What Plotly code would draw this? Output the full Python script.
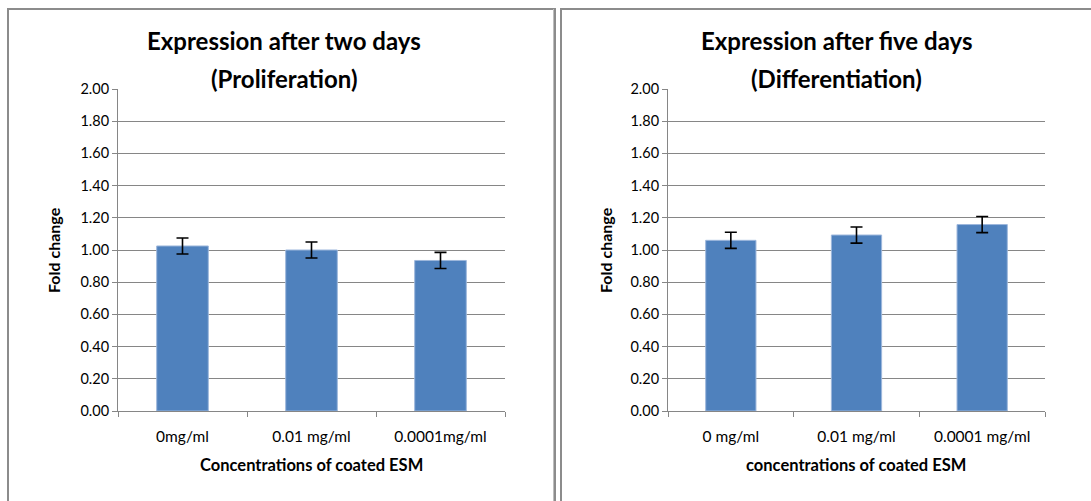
import plotly.graph_objects as go

W, H = 1091, 501

# Data
cats_left = ["0mg/ml", "0.01 mg/ml", "0.0001mg/ml"]
vals_left = [1.025, 1.00, 0.935]
err_left = [0.05, 0.05, 0.05]

cats_right = ["0 mg/ml", "0.01 mg/ml", "0.0001 mg/ml"]
vals_right = [1.06, 1.093, 1.158]
err_right = [0.05, 0.05, 0.05]

ytickvals = [0.0, 0.2, 0.4, 0.6, 0.8, 1.0, 1.2, 1.4, 1.6, 1.8, 2.0]

title_left = ["Expression after two days", "(Proliferation)"]
title_right = ["Expression after five days", "(Differentiation)"]
xtitle_left = "Concentrations of coated ESM"
xtitle_right = "concentrations of coated ESM"
ytitle = "Fold change"

FONT = "Lato"
BAR = "#4F81BD"
GRID = "#868686"

def px(x):
    return x / W

def py(y):
    return 1 - y / H

pos_left = list(range(len(cats_left)))
pos_right = list(range(len(cats_right)))

fig = go.Figure()
fig.add_trace(go.Bar(x=pos_left, y=vals_left, xaxis="x", yaxis="y",
                     marker=dict(color=BAR, line=dict(color="#9DB7DC", width=1)),
                     width=0.4,
                     error_y=dict(type="data", array=err_left, color="black",
                                  thickness=1.6, width=6)))
fig.add_trace(go.Bar(x=pos_right, y=vals_right, xaxis="x2", yaxis="y2",
                     marker=dict(color=BAR, line=dict(color="#9DB7DC", width=1)),
                     width=0.4,
                     error_y=dict(type="data", array=err_right, color="black",
                                  thickness=1.6, width=6)))

ydom = [py(411), py(89)]
yax = dict(range=[0, 2], tickvals=ytickvals, tickformat=".2f",
           showgrid=True, gridcolor=GRID, gridwidth=1,
           showline=True, linecolor=GRID, linewidth=1,
           ticks="outside", ticklen=5, tickwidth=1, tickcolor=GRID,
           tickfont=dict(family=FONT, size=14.5, color="black"),
           zeroline=False, domain=ydom, fixedrange=True, automargin=False)

def xaxis(cats, dom):
    n = len(cats)
    return dict(type="linear", range=[-0.5, n - 0.5], domain=dom,
                tickvals=list(range(n)), ticktext=cats,
                showline=True, linecolor=GRID, linewidth=1,
                ticks="outside", ticklen=11, tickwidth=1,
                tickcolor="rgba(0,0,0,0)",
                minor=dict(tickmode="linear", tick0=-0.5, dtick=1,
                           ticks="outside", ticklen=5, tickwidth=1,
                           tickcolor=GRID, showgrid=False),
                tickfont=dict(family=FONT, size=15.5, color="black"),
                showgrid=False, zeroline=False, fixedrange=True,
                automargin=False)

fig.update_layout(
    template="none",
    width=W, height=H, autosize=False,
    margin=dict(l=0, r=0, t=0, b=0, pad=0, autoexpand=False),
    paper_bgcolor="white", plot_bgcolor="white",
    showlegend=False,
    hovermode=False,
    xaxis=dict(anchor="y", **xaxis(cats_left, [px(118), px(505)])),
    yaxis=dict(anchor="x", **yax),
    xaxis2=dict(anchor="y2", **xaxis(cats_right, [px(668), px(1045)])),
    yaxis2=dict(anchor="x2", **yax),
)

ann = []
def text(x, y, t, size, bold=True, angle=0):
    ann.append(dict(x=px(x), y=py(y), xref="paper", yref="paper",
                    text=("<b>%s</b>" % t) if bold else t, showarrow=False,
                    textangle=angle, xanchor="center", yanchor="middle",
                    font=dict(family=FONT, size=size, color="black")))

# titles
text(284, 41, title_left[0], 24)
text(284, 78, title_left[1], 24)
text(836, 41, title_right[0], 24)
text(836, 78, title_right[1], 24)
# axis titles
text(311, 465, xtitle_left, 16.5)
text(856, 465, xtitle_right, 16.5)
text(53, 250, ytitle, 16, angle=-90)
text(605, 250, ytitle, 16, angle=-90)
fig.update_layout(annotations=ann)

# chart frames
shapes = [
    dict(type="rect", xref="paper", yref="paper", x0=px(8), x1=px(555),
         y0=py(520), y1=py(9), line=dict(color="#8C8C8C", width=2)),
    dict(type="line", xref="paper", yref="paper", x0=px(553.5), x1=px(553.5),
         y0=py(520), y1=py(9), line=dict(color="#BDBDBD", width=1)),
    dict(type="rect", xref="paper", yref="paper", x0=px(561), x1=px(1100),
         y0=py(520), y1=py(9), line=dict(color="#8C8C8C", width=2)),
]
fig.update_layout(shapes=shapes)

post = ("document.body.style.margin='0';"
        "document.body.style.overflow='hidden';"
        "document.documentElement.style.overflow='hidden';"
        "var d=document.getElementById('{plot_id}');"
        "d.style.position='fixed';d.style.left='0';d.style.top='0';")

fig.write_html("out.html", config={"displayModeBar": False}, post_script=post)
